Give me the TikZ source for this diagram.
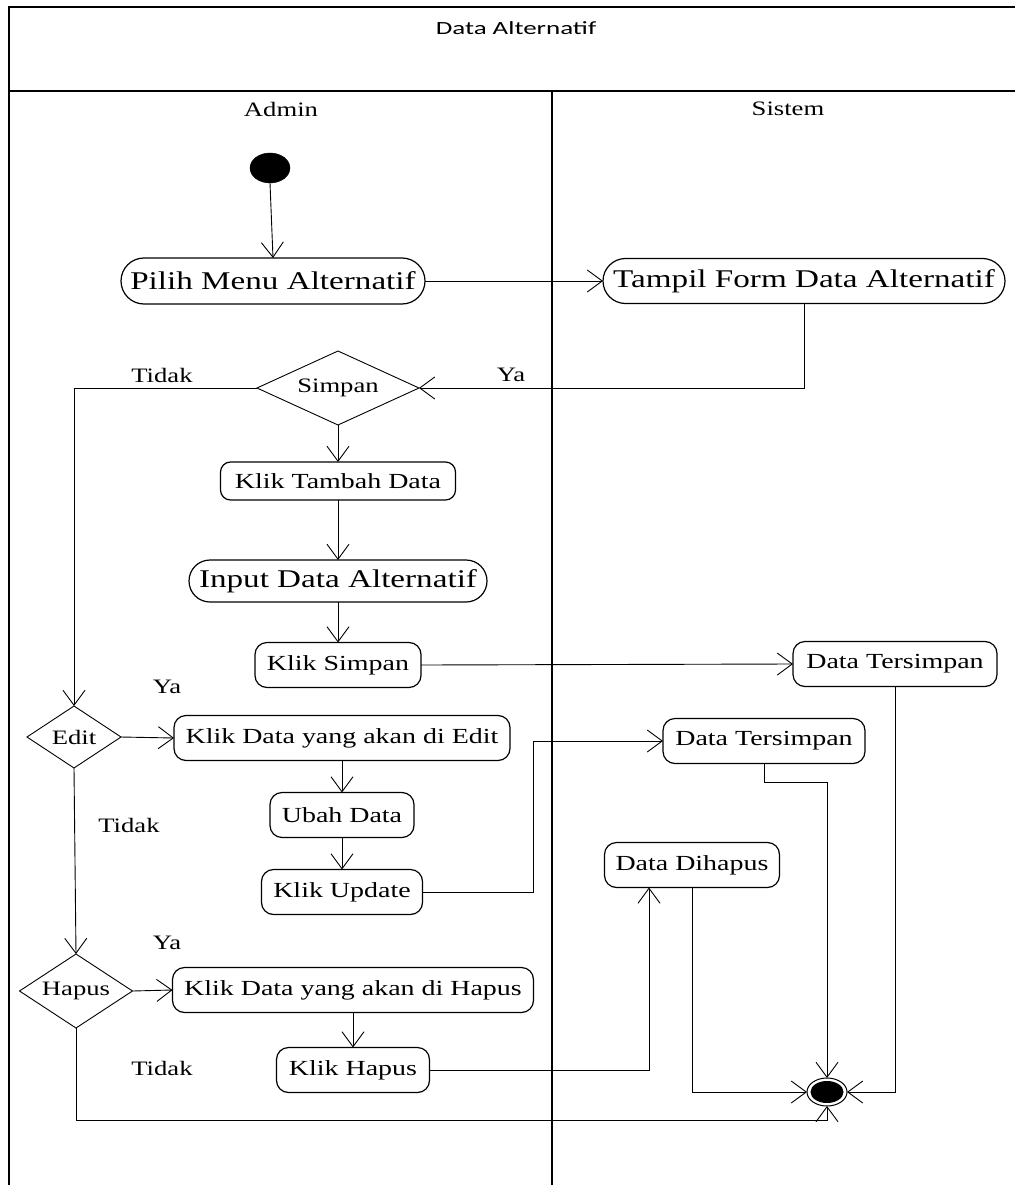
\documentclass[tikz,border=0pt]{standalone}
\usepackage{fontspec}
\usetikzlibrary{arrows.meta,shapes.geometric,shapes.misc}
% Widened serif and sans faces used throughout the activity diagram
\newfontfamily\serifw[FakeStretch=1.3]{Liberation Serif}
\newfontfamily\titlew[FakeStretch=1.45]{Carlito}

\begin{document}
\begin{tikzpicture}[x=1pt,y=-1pt,
  every node/.style={inner sep=0pt, outer sep=0pt},
  bigtext/.style={font=\serifw\fontsize{25.5}{28}\selectfont},
  midtext/.style={font=\serifw\fontsize{21.5}{24}\selectfont},
  lbl/.style={font=\serifw\fontsize{20.5}{23}\selectfont},
  pill/.style={draw, rounded rectangle, line width=1.2pt, bigtext},
  act/.style={draw, rectangle, rounded corners=12pt, line width=1.2pt, midtext},
  decide/.style={draw, diamond, line width=0.9pt, lbl},
  flow/.style={line width=0.9pt, -{Straight Barb[length=15pt,width=22pt]}},
  frame/.style={line width=1.8pt}
]
\useasboundingbox (0,0) rectangle (1015,1185);
\fill[white] (0,0) rectangle (1015,1185);

% swimlane frame
\draw[frame] (1015,7) -- (9,7) -- (9,1185);
\draw[frame] (9,91) -- (1015,91);
\draw[frame] (552,91) -- (552,1185);

\node[font=\titlew\fontsize{18.6}{22}\selectfont] (title) at (516,28) {Data Alternatif};
\node[lbl] (lanea) at (281,109) {Admin};
\node[lbl] (lanes) at (788,109) {Sistem};

% start and end
\node[draw, fill=black, ellipse, minimum width=40, minimum height=30] (start) at (270,168) {};
\node[draw, ellipse, line width=1pt, minimum width=40, minimum height=28] (final) at (827,1092) {};
\node[fill=black, ellipse, minimum width=33, minimum height=22] (finalcore) at (final) {};

% activities
\node[pill, minimum width=304, minimum height=46] (pilih) at (273,281) {Pilih Menu Alternatif};
\node[pill, minimum width=402, minimum height=45] (tampil) at (804,281) {Tampil Form Data Alternatif};
\node[decide, aspect=2.19, minimum width=162, minimum height=74] (simpan) at (338,388) {Simpan};
\node[act, minimum width=235, minimum height=38, rounded corners=10pt] (tambah) at (338,481) {Klik Tambah Data};
\node[pill, minimum width=298, minimum height=42] (input) at (338,581) {Input Data Alternatif};
\node[act, minimum width=166, minimum height=45] (ksimpan) at (338,665) {Klik Simpan};
\node[act, minimum width=204, minimum height=45] (dt1) at (895,664) {Data Tersimpan};

\node[decide, aspect=1.52, minimum width=94, minimum height=62] (edit) at (74,737) {Edit};
\node[act, minimum width=336, minimum height=45] (kedit) at (342,738) {Klik Data yang akan di Edit};
\node[act, minimum width=144, minimum height=45] (ubah) at (342,815) {Ubah Data};
\node[act, minimum width=161, minimum height=45] (kupdate) at (342,892) {Klik Update};
\node[act, minimum width=202, minimum height=45] (dt2) at (764,741) {Data Tersimpan};
\node[act, minimum width=175, minimum height=45] (dihapus) at (692,865) {Data Dihapus};

\node[decide, aspect=1.53, minimum width=113, minimum height=74] (hapus) at (76,991) {Hapus};
\node[act, minimum width=361, minimum height=45] (khdata) at (353,990) {Klik Data yang akan di Hapus};
\node[act, minimum width=153, minimum height=45] (khapus) at (353,1070) {Klik Hapus};

% guard labels
\node[lbl] (g1) at (162,375) {Tidak};
\node[lbl] (g2) at (511,375) {Ya};
\node[lbl] (g3) at (167,687) {Ya};
\node[lbl] (g4) at (129,825) {Tidak};
\node[lbl] (g5) at (167,943) {Ya};
\node[lbl] (g6) at (162,1068) {Tidak};

% routing helpers
\coordinate (hx) at (649,0);
\coordinate (hb) at (0,1120);

% flows
\draw[flow] (start.south) -- (pilih.north);
\draw[flow] (pilih.east) -- (tampil.west);
\draw[flow] (tampil.south) |- (simpan.east);
\draw[flow] (simpan.west) -| (edit.north);
\draw[flow] (simpan.south) -- (tambah.north);
\draw[flow] (tambah.south) -- (input.north);
\draw[flow] (input.south) -- (ksimpan.north);
\draw[flow] (ksimpan.east) -- (dt1.west);

\draw[flow] (edit.east) -- (kedit.west);
\draw[flow] (kedit.south) -- (ubah.north);
\draw[flow] (ubah.south) -- (kupdate.north);
\draw[flow] (kupdate.east) -- ++(111,0) |- (dt2.west);
\draw[flow] (edit.south) -- (hapus.north);

\draw[flow] (hapus.east) -- (khdata.west);
\draw[flow] (khdata.south) -- (khapus.north);
\draw[flow] (khapus.east) -| (hx |- dihapus.south);

\draw[flow] (dt1.south) |- (final.east);
\draw[flow] (dt2.south) -- ++(0,19) -| (final.north);
\draw[flow] (dihapus.south) |- (final.west);
\draw[flow] (hapus.south) -- (hapus.south |- hb) -| (final.south);
\end{tikzpicture}
\end{document}
